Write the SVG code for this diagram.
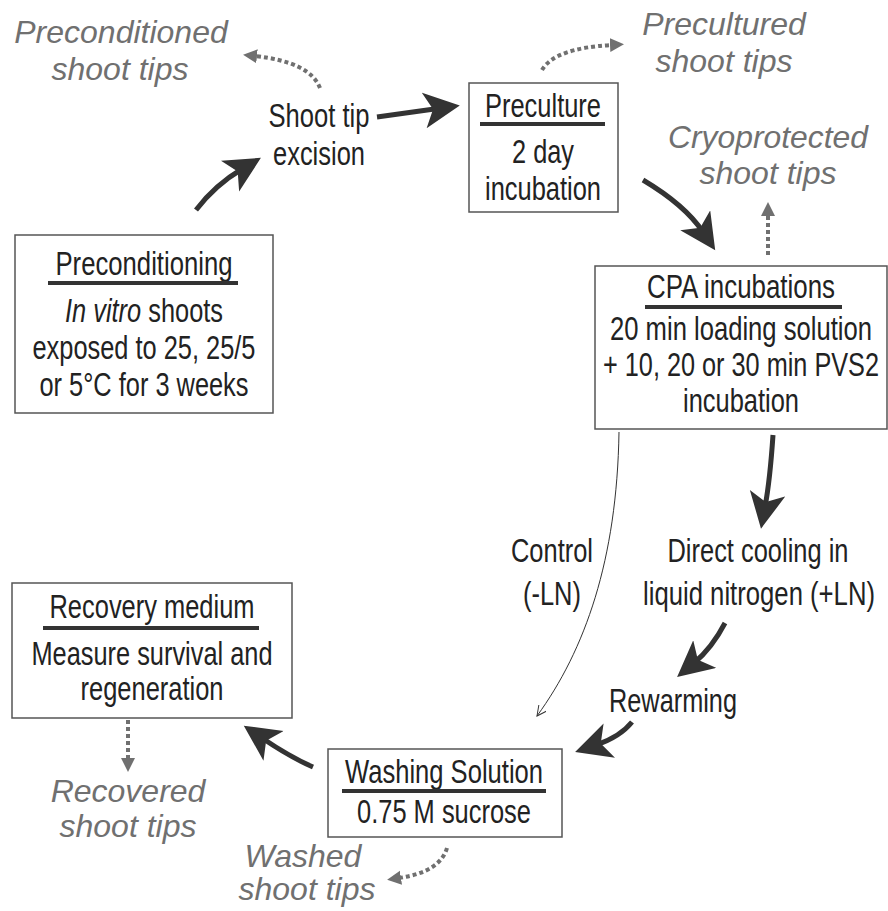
<svg xmlns="http://www.w3.org/2000/svg" width="888" height="911" viewBox="0 0 888 911">
<style>
.t{font-family:"Liberation Sans","Arial",sans-serif;font-size:33px;fill:#222;text-anchor:middle}
.g{font-family:"Liberation Sans","Arial",sans-serif;font-size:32px;font-style:italic;fill:#707070;text-anchor:middle}
.box{fill:#fff;stroke:#555;stroke-width:1.5}
.ul{stroke:#333;stroke-width:4}
.a{fill:none;stroke:#333;stroke-width:5}
.d{fill:none;stroke:#707070;stroke-width:4;stroke-dasharray:4 3}
.thin{fill:none;stroke:#333;stroke-width:1}
</style>
<defs>
<marker id="big" markerUnits="userSpaceOnUse" markerWidth="40" markerHeight="40" refX="14" refY="18" orient="auto">
<path d="M0,0 L36,18 L0,36 L9,18 Z" fill="#333"/>
</marker>
<marker id="sm" markerUnits="userSpaceOnUse" markerWidth="16" markerHeight="16" refX="2" refY="7" orient="auto">
<path d="M0,0 L14,7 L0,14 Z" fill="#707070"/>
</marker>
<marker id="thinhead" markerUnits="userSpaceOnUse" markerWidth="12" markerHeight="12" refX="10" refY="5" orient="auto">
<path d="M0,0 L10,5 L0,10" fill="none" stroke="#333" stroke-width="1"/>
</marker>
</defs>

<g id="connectors">
<path class="a" d="M196,210 Q215,185 242,169" marker-end="url(#big)"/>
<path class="a" d="M377,117 L438,108.5" marker-end="url(#big)"/>
<path class="a" d="M643,180 Q685,205 703,232" marker-end="url(#big)"/>
<path class="a" d="M773,435 Q770,480 765,507" marker-end="url(#big)"/>
<path class="a" d="M725,623 Q712,648 694,663" marker-end="url(#big)"/>
<path class="a" d="M632,722 Q620,737 596,745" marker-end="url(#big)"/>
<path class="a" d="M313,767 Q290,757 262,738" marker-end="url(#big)"/>
<path class="thin" d="M619,432 C617,560 585,650 537,716" marker-end="url(#thinhead)"/>
<path class="d" d="M320,88 Q310,62 255,56" marker-end="url(#sm)"/>
<path class="d" d="M542,70 Q555,48 612,45" marker-end="url(#sm)"/>
<path class="d" d="M768,255 L768,214" marker-end="url(#sm)"/>
<path class="d" d="M128,720 L128,760" marker-end="url(#sm)"/>
<path class="d" d="M447,848 Q440,872 399,878" marker-end="url(#sm)"/>
</g>

<g id="preconditioning">
<rect class="box" x="15" y="235" width="258" height="178"/>
<text class="t" x="144" y="275" textLength="177" lengthAdjust="spacingAndGlyphs">Preconditioning</text>
<line class="ul" x1="48" y1="283" x2="238" y2="283"/>
<text class="t" x="144" y="322" textLength="158" lengthAdjust="spacingAndGlyphs"><tspan font-style="italic">In vitro</tspan> shoots</text>
<text class="t" x="144" y="359" textLength="223" lengthAdjust="spacingAndGlyphs">exposed to 25, 25/5</text>
<text class="t" x="144" y="396" textLength="209" lengthAdjust="spacingAndGlyphs">or 5°C for 3 weeks</text>
</g>

<g id="preconditioned-tips">
<text class="g" x="121" y="43">Preconditioned</text>
<text class="g" x="120" y="80">shoot tips</text>
</g>

<g id="excision">
<text class="t" x="319" y="127" textLength="101" lengthAdjust="spacingAndGlyphs">Shoot tip</text>
<text class="t" x="319" y="165" textLength="92" lengthAdjust="spacingAndGlyphs">excision</text>
</g>

<g id="preculture">
<rect class="box" x="469" y="83" width="149" height="129"/>
<text class="t" x="543" y="117" textLength="116" lengthAdjust="spacingAndGlyphs">Preculture</text>
<line class="ul" x1="480" y1="124" x2="605" y2="124"/>
<text class="t" x="543" y="163" textLength="62" lengthAdjust="spacingAndGlyphs">2 day</text>
<text class="t" x="543" y="200" textLength="116" lengthAdjust="spacingAndGlyphs">incubation</text>
</g>

<g id="precultured-tips">
<text class="g" x="724" y="35">Precultured</text>
<text class="g" x="724" y="72">shoot tips</text>
</g>

<g id="cryoprotected-tips">
<text class="g" x="768" y="148" textLength="200" lengthAdjust="spacingAndGlyphs">Cryoprotected</text>
<text class="g" x="768" y="184">shoot tips</text>
</g>

<g id="cpa">
<rect class="box" x="595" y="266" width="292" height="163"/>
<text class="t" x="741" y="298" textLength="188" lengthAdjust="spacingAndGlyphs">CPA incubations</text>
<line class="ul" x1="645" y1="307" x2="842" y2="307"/>
<text class="t" x="741" y="340" textLength="262" lengthAdjust="spacingAndGlyphs">20 min loading solution</text>
<text class="t" x="741" y="376" textLength="276" lengthAdjust="spacingAndGlyphs">+ 10, 20 or 30 min PVS2</text>
<text class="t" x="741" y="412" textLength="116" lengthAdjust="spacingAndGlyphs">incubation</text>
</g>

<g id="control">
<text class="t" x="552" y="562" textLength="82" lengthAdjust="spacingAndGlyphs">Control</text>
<text class="t" x="552" y="605" textLength="58" lengthAdjust="spacingAndGlyphs">(-LN)</text>
</g>

<g id="cooling">
<text class="t" x="758" y="562" textLength="181" lengthAdjust="spacingAndGlyphs">Direct cooling in</text>
<text class="t" x="759" y="605" textLength="232" lengthAdjust="spacingAndGlyphs">liquid nitrogen (+LN)</text>
</g>

<g id="rewarming">
<text class="t" x="673" y="712" textLength="128" lengthAdjust="spacingAndGlyphs">Rewarming</text>
</g>

<g id="washing">
<rect class="box" x="328" y="749" width="234" height="88"/>
<text class="t" x="444" y="783" textLength="198" lengthAdjust="spacingAndGlyphs">Washing Solution</text>
<line class="ul" x1="342" y1="791" x2="546" y2="791"/>
<text class="t" x="444" y="823" textLength="174" lengthAdjust="spacingAndGlyphs">0.75 M sucrose</text>
</g>

<g id="washed-tips">
<text class="g" x="303" y="867">Washed</text>
<text class="g" x="307" y="900">shoot tips</text>
</g>

<g id="recovery">
<rect class="box" x="12" y="583" width="280" height="135"/>
<text class="t" x="152" y="618" textLength="205" lengthAdjust="spacingAndGlyphs">Recovery medium</text>
<line class="ul" x1="43" y1="628" x2="259" y2="628"/>
<text class="t" x="152" y="665" textLength="241" lengthAdjust="spacingAndGlyphs">Measure survival and</text>
<text class="t" x="152" y="700" textLength="143" lengthAdjust="spacingAndGlyphs">regeneration</text>
</g>

<g id="recovered-tips">
<text class="g" x="128" y="802">Recovered</text>
<text class="g" x="128" y="837">shoot tips</text>
</g>
</svg>
